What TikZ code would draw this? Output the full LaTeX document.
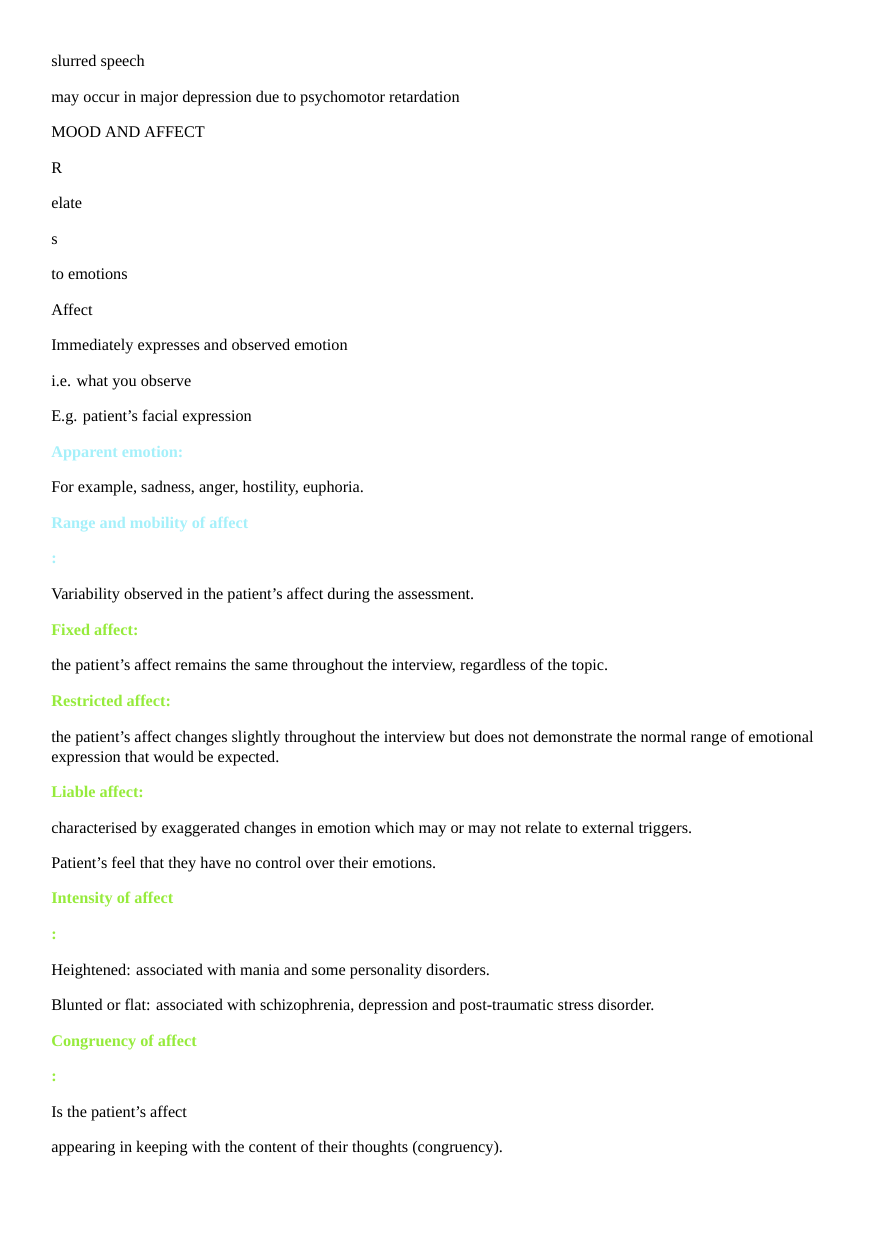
\documentclass[tikz,border=0pt]{standalone}
\usepackage{fontspec}
\setmainfont{Liberation Serif}
\usetikzlibrary{positioning}
\definecolor{headcyan}{RGB}{165,240,250}
\definecolor{headgreen}{RGB}{150,235,60}
\begin{document}
\begin{tikzpicture}[
    x=1pt, y=1pt,
    txt/.style={anchor=base west, inner sep=0pt, font=\fontsize{11}{13.5}\selectfont},
    cyanhead/.style={txt, text=headcyan, font=\fontsize{11}{13.5}\selectfont\bfseries},
    greenhead/.style={txt, text=headgreen, font=\fontsize{11}{13.5}\selectfont\bfseries}
]
    \useasboundingbox (0,0) rectangle (595,-842);

    % Speech
    \node[txt] (speech) at (34.5,-45) {slurred speech};
    \node[txt] (retard) at (34.5,-69.4) {may occur in major depression due to psychomotor retardation};

    % Mood and affect
    \node[txt] (mood) at (34.5,-93) {MOOD AND AFFECT};
    \node[txt] (r) at (34.5,-117.4) {R};
    \node[txt] (elate) at (34.5,-141.1) {elate};
    \node[txt] (s) at (34.5,-165.4) {s};
    \node[txt] (emot) at (34.5,-189.1) {to emotions};
    \node[txt] (affect) at (34.5,-213.4) {Affect};
    \node[txt] (immed) at (34.5,-237.1) {Immediately expresses and observed emotion};
    \node[txt] (ie) at (34.5,-261.4) {i.e. what you observe};
    \node[txt] (eg) at (34.5,-285.1) {E.g. patient’s facial expression};

    % Apparent emotion
    \node[cyanhead] (appar) at (34.5,-309.4) {Apparent emotion:};
    \node[txt] (forex) at (34.5,-333.1) {For example, sadness, anger, hostility, euphoria.};

    % Range and mobility
    \node[cyanhead] (range) at (34.5,-357.4) {Range and mobility of affect};
    \node[cyanhead] (rcolon) at (34.5,-381.1) {:};
    \node[txt] (vari) at (34.5,-405.4) {Variability observed in the patient’s affect during the assessment.};

    % Fixed affect
    \node[greenhead] (fixed) at (34.5,-429.8) {Fixed affect:};
    \node[txt] (fixtxt) at (34.5,-453.4) {the patient’s affect remains the same throughout the interview, regardless of the topic.};

    % Restricted affect
    \node[greenhead] (restr) at (34.5,-477.8) {Restricted affect:};
    \node[txt] (restxt) at (34.5,-502.1) {the patient’s affect changes slightly throughout the interview but does not demonstrate the normal range of emotional};
    \node[txt] (resmore) at (34.5,-515.6) {expression that would be expected.};

    % Liable affect
    \node[greenhead] (liable) at (34.5,-539.3) {Liable affect:};
    \node[txt] (liatxt) at (34.5,-563.6) {characterised by exaggerated changes in emotion which may or may not relate to external triggers.};
    \node[txt] (control) at (34.5,-587.3) {Patient’s feel that they have no control over their emotions.};

    % Intensity
    \node[greenhead] (inten) at (34.5,-611) {Intensity of affect};
    \node[greenhead] (icolon) at (34.5,-635.3) {:};
    \node[txt] (height) at (34.5,-659.6) {Heightened: associated with mania and some personality disorders.};
    \node[txt] (blunt) at (34.5,-683.3) {Blunted or flat: associated with schizophrenia, depression and post-traumatic stress disorder.};

    % Congruency
    \node[greenhead] (congr) at (34.5,-707.7) {Congruency of affect};
    \node[greenhead] (ccolon) at (34.5,-731.3) {:};
    \node[txt] (isthe) at (34.5,-755.7) {Is the patient’s affect};
    \node[txt] (keep) at (34.5,-779.3) {appearing in keeping with the content of their thoughts (congruency).};
\end{tikzpicture}
\end{document}
